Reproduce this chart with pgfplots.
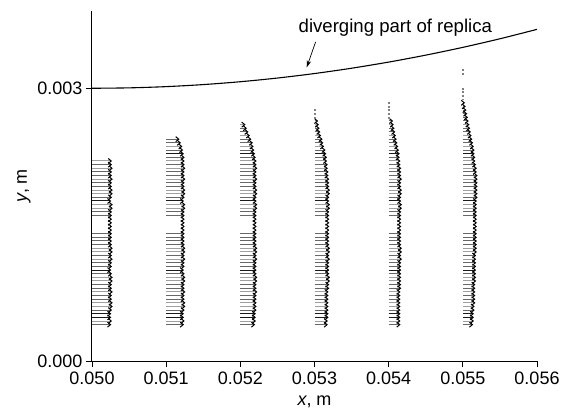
\documentclass[border=0pt]{standalone}
\usepackage{fontspec}
\setmainfont{Liberation Sans}
\usepackage{pgfplots}
\pgfplotsset{compat=1.18}
\usepackage{pgfplotstable}
\usetikzlibrary{arrows.meta}

% Velocity vectors, one table per station x: height y, grey level c of the row, axial length u.
\pgfplotstableread{
y       c    u
0.00040 0.40 0.00026
0.00044 0.62 0.00027
0.00048 0.10 0.00026
0.00052 0.10 0.00026
0.00056 0.40 0.00027
0.00060 0.62 0.00028
0.00064 0.62 0.00028
0.00068 0.40 0.00027
0.00072 0.40 0.00027
0.00076 0.62 0.00028
0.00080 0.40 0.00027
0.00084 0.40 0.00027
0.00088 0.62 0.00028
0.00092 0.62 0.00028
0.00096 0.40 0.00027
0.00100 0.10 0.00026
0.00104 0.40 0.00027
0.00108 0.40 0.00027
0.00112 0.62 0.00028
0.00116 0.40 0.00027
0.00120 0.62 0.00028
0.00124 0.62 0.00028
0.00128 0.40 0.00027
0.00132 0.40 0.00027
0.00136 0.40 0.00027
0.00140 0.40 0.00027
0.00144 1.00 0.00027
0.00148 1.00 0.00027
0.00152 1.00 0.00027
0.00156 1.00 0.00027
0.00160 0.40 0.00027
0.00164 0.40 0.00027
0.00168 0.62 0.00028
0.00172 0.62 0.00028
0.00176 0.10 0.00026
0.00180 0.40 0.00027
0.00184 0.62 0.00028
0.00188 0.62 0.00028
0.00192 0.40 0.00027
0.00196 0.40 0.00027
0.00200 0.62 0.00028
0.00204 0.40 0.00027
0.00208 0.40 0.00027
0.00212 0.62 0.00028
0.00216 0.40 0.00027
0.00220 0.62 0.00027
}\stA

\pgfplotstableread{
y       c    u
0.00040 0.40 0.00024
0.00044 0.62 0.00025
0.00048 0.10 0.00024
0.00052 0.10 0.00024
0.00056 0.40 0.00025
0.00060 0.62 0.00026
0.00064 0.62 0.00026
0.00068 0.40 0.00025
0.00072 0.40 0.00025
0.00076 0.62 0.00026
0.00080 0.40 0.00025
0.00084 0.40 0.00025
0.00088 0.62 0.00026
0.00092 0.62 0.00026
0.00096 0.40 0.00025
0.00100 0.10 0.00024
0.00104 0.40 0.00025
0.00108 0.40 0.00025
0.00112 0.62 0.00026
0.00116 0.40 0.00025
0.00120 0.62 0.00026
0.00124 0.62 0.00026
0.00128 0.40 0.00025
0.00132 0.40 0.00025
0.00136 0.40 0.00025
0.00140 0.40 0.00025
0.00144 1.00 0.00025
0.00148 1.00 0.00025
0.00152 1.00 0.00025
0.00156 1.00 0.00025
0.00160 0.40 0.00025
0.00164 0.40 0.00025
0.00168 0.62 0.00026
0.00172 0.62 0.00026
0.00176 0.10 0.00024
0.00180 0.40 0.00025
0.00184 0.62 0.00026
0.00188 0.62 0.00026
0.00192 0.40 0.00025
0.00196 0.40 0.00025
0.00200 0.62 0.00026
0.00204 0.40 0.00025
0.00208 0.40 0.00025
0.00212 0.62 0.00026
0.00216 0.40 0.00025
0.00220 0.62 0.00025
0.00224 0.40 0.00025
0.00228 0.10 0.00024
0.00232 0.40 0.00023
0.00236 0.62 0.00022
0.00240 0.40 0.00020
0.00244 0.40 0.00018
}\stB

\pgfplotstableread{
y       c    u
0.00040 0.40 0.00020
0.00044 0.62 0.00021
0.00048 0.10 0.00021
0.00052 0.10 0.00021
0.00056 0.40 0.00022
0.00060 0.62 0.00022
0.00064 0.62 0.00022
0.00068 0.40 0.00022
0.00072 0.40 0.00022
0.00076 0.62 0.00023
0.00080 0.40 0.00022
0.00084 0.40 0.00022
0.00088 0.62 0.00023
0.00092 0.62 0.00023
0.00096 0.40 0.00022
0.00100 0.10 0.00022
0.00104 0.40 0.00022
0.00108 0.40 0.00022
0.00112 0.62 0.00023
0.00116 0.40 0.00022
0.00120 0.62 0.00023
0.00124 0.62 0.00023
0.00128 0.40 0.00022
0.00132 0.40 0.00022
0.00136 0.40 0.00022
0.00140 0.40 0.00022
0.00144 1.00 0.00022
0.00148 1.00 0.00022
0.00152 1.00 0.00022
0.00156 1.00 0.00022
0.00160 0.40 0.00022
0.00164 0.40 0.00022
0.00168 0.62 0.00023
0.00172 0.62 0.00023
0.00176 0.10 0.00022
0.00180 0.40 0.00022
0.00184 0.62 0.00023
0.00188 0.62 0.00023
0.00192 0.40 0.00022
0.00196 0.40 0.00022
0.00200 0.62 0.00023
0.00204 0.40 0.00022
0.00208 0.40 0.00022
0.00212 0.62 0.00023
0.00216 0.40 0.00022
0.00220 0.62 0.00022
0.00224 0.40 0.00021
0.00228 0.10 0.00020
0.00232 0.40 0.00019
0.00236 0.62 0.00018
0.00240 0.40 0.00017
0.00244 0.40 0.00015
0.00248 0.62 0.00013
0.00252 0.40 0.00011
0.00256 0.40 0.00009
0.00260 0.62 0.00007
}\stC

\pgfplotstableread{
y       c    u
0.00040 0.40 0.00018
0.00044 0.62 0.00018
0.00048 0.10 0.00019
0.00052 0.10 0.00019
0.00056 0.40 0.00019
0.00060 0.62 0.00019
0.00064 0.62 0.00019
0.00068 0.40 0.00019
0.00072 0.40 0.00019
0.00076 0.62 0.00019
0.00080 0.40 0.00020
0.00084 0.40 0.00020
0.00088 0.62 0.00021
0.00092 0.62 0.00021
0.00096 0.40 0.00020
0.00100 0.10 0.00020
0.00104 0.40 0.00020
0.00108 0.40 0.00020
0.00112 0.62 0.00021
0.00116 0.40 0.00020
0.00120 0.62 0.00021
0.00124 0.62 0.00021
0.00128 0.40 0.00020
0.00132 0.40 0.00020
0.00136 0.40 0.00020
0.00140 0.40 0.00020
0.00144 1.00 0.00020
0.00148 1.00 0.00020
0.00152 1.00 0.00020
0.00156 1.00 0.00020
0.00160 0.40 0.00020
0.00164 0.40 0.00020
0.00168 0.62 0.00021
0.00172 0.62 0.00021
0.00176 0.10 0.00020
0.00180 0.40 0.00020
0.00184 0.62 0.00021
0.00188 0.62 0.00021
0.00192 0.40 0.00020
0.00196 0.40 0.00020
0.00200 0.62 0.00020
0.00204 0.40 0.00019
0.00208 0.40 0.00019
0.00212 0.62 0.00018
0.00216 0.40 0.00018
0.00220 0.62 0.00017
0.00224 0.40 0.00017
0.00228 0.10 0.00016
0.00232 0.40 0.00015
0.00236 0.62 0.00013
0.00240 0.40 0.00012
0.00244 0.40 0.00011
0.00248 0.62 0.00009
0.00252 0.40 0.00008
0.00256 0.40 0.00007
0.00260 0.62 0.00006
0.00264 0.40 0.00005
}\stD

\pgfplotstableread{
y       c    u
0.00040 0.40 0.00016
0.00044 0.62 0.00016
0.00048 0.10 0.00016
0.00052 0.10 0.00016
0.00056 0.40 0.00016
0.00060 0.62 0.00016
0.00064 0.62 0.00016
0.00068 0.40 0.00016
0.00072 0.40 0.00016
0.00076 0.62 0.00016
0.00080 0.40 0.00017
0.00084 0.40 0.00017
0.00088 0.62 0.00017
0.00092 0.62 0.00017
0.00096 0.40 0.00017
0.00100 0.10 0.00017
0.00104 0.40 0.00017
0.00108 0.40 0.00017
0.00112 0.62 0.00018
0.00116 0.40 0.00017
0.00120 0.62 0.00018
0.00124 0.62 0.00018
0.00128 0.40 0.00017
0.00132 0.40 0.00017
0.00136 0.40 0.00017
0.00140 0.40 0.00017
0.00144 1.00 0.00017
0.00148 1.00 0.00017
0.00152 1.00 0.00017
0.00156 1.00 0.00017
0.00160 0.40 0.00017
0.00164 0.40 0.00017
0.00168 0.62 0.00018
0.00172 0.62 0.00018
0.00176 0.10 0.00017
0.00180 0.40 0.00017
0.00184 0.62 0.00018
0.00188 0.62 0.00018
0.00192 0.40 0.00017
0.00196 0.40 0.00017
0.00200 0.62 0.00018
0.00204 0.40 0.00017
0.00208 0.40 0.00017
0.00212 0.62 0.00017
0.00216 0.40 0.00016
0.00220 0.62 0.00016
0.00224 0.40 0.00015
0.00228 0.10 0.00015
0.00232 0.40 0.00014
0.00236 0.62 0.00013
0.00240 0.40 0.00012
0.00244 0.40 0.00011
0.00248 0.62 0.00010
0.00252 0.40 0.00009
0.00256 0.40 0.00008
0.00260 0.62 0.00007
0.00264 0.40 0.00006
}\stE

\pgfplotstableread{
y       c    u
0.00040 0.40 0.00014
0.00044 0.62 0.00015
0.00048 0.10 0.00015
0.00052 0.10 0.00015
0.00056 0.40 0.00016
0.00060 0.62 0.00016
0.00064 0.62 0.00017
0.00068 0.40 0.00017
0.00072 0.40 0.00017
0.00076 0.62 0.00017
0.00080 0.40 0.00017
0.00084 0.40 0.00017
0.00088 0.62 0.00018
0.00092 0.62 0.00018
0.00096 0.40 0.00018
0.00100 0.10 0.00018
0.00104 0.40 0.00018
0.00108 0.40 0.00018
0.00112 0.62 0.00018
0.00116 0.40 0.00018
0.00120 0.62 0.00019
0.00124 0.62 0.00019
0.00128 0.40 0.00019
0.00132 0.40 0.00019
0.00136 0.40 0.00019
0.00140 0.40 0.00019
0.00144 1.00 0.00019
0.00148 1.00 0.00019
0.00152 1.00 0.00019
0.00156 1.00 0.00019
0.00160 0.40 0.00019
0.00164 0.40 0.00019
0.00168 0.62 0.00019
0.00172 0.62 0.00019
0.00176 0.10 0.00019
0.00180 0.40 0.00020
0.00184 0.62 0.00020
0.00188 0.62 0.00020
0.00192 0.40 0.00020
0.00196 0.40 0.00020
0.00200 0.62 0.00020
0.00204 0.40 0.00020
0.00208 0.40 0.00019
0.00212 0.62 0.00019
0.00216 0.40 0.00018
0.00220 0.62 0.00017
0.00224 0.40 0.00017
0.00228 0.10 0.00016
0.00232 0.40 0.00016
0.00236 0.62 0.00015
0.00240 0.40 0.00014
0.00244 0.40 0.00013
0.00248 0.62 0.00012
0.00252 0.40 0.00011
0.00256 0.40 0.00010
0.00260 0.62 0.00009
0.00264 0.40 0.00008
0.00268 0.40 0.00007
0.00272 0.40 0.00006
0.00276 0.40 0.00005
0.00280 0.40 0.00004
0.00284 0.40 0.00003
}\stF

% Near-zero points above the profiles at the last three stations
\pgfplotstableread{
x      y
0.053  0.00268
0.053  0.00272
0.053  0.00276
0.054  0.00268
0.054  0.00272
0.054  0.00276
0.054  0.00280
0.054  0.00284
0.055  0.00288
0.055  0.00292
0.055  0.00296
0.055  0.00300
0.055  0.00316
0.055  0.00320
}\still

% Upper wall: diverging part of the replica
\pgfplotstableread{
x       y
0.0500  0.0030000
0.0505  0.0030045
0.0510  0.0030180
0.0515  0.0030405
0.0520  0.0030720
0.0525  0.0031125
0.0530  0.0031620
0.0535  0.0032205
0.0540  0.0032880
0.0545  0.0033645
0.0550  0.0034500
0.0555  0.0035445
0.0560  0.0036480
}\wall

\newcommand\lab{\fontsize{18bp}{21bp}\selectfont}

\pgfplotsset{
  station/.style={
    quiver={u=\thisrow{u}, v=0,
      every arrow/.append style={draw=mapped color, line width=1bp,
        -{Straight Barb[length=3bp,width=5bp,color=black,line width=1bp]}}},
    point meta=\thisrow{c}},
}

\begin{document}
\begin{tikzpicture}
\path[use as bounding box] (-92bp,-49bp) rectangle (469bp,361bp);
\begin{axis}[
  at={(0,0)}, anchor=south west,
  scale only axis, width=445bp, height=350bp,
  xmin=0.050, xmax=0.056, ymin=0, ymax=0.00385,
  axis x line*=bottom, axis y line*=left,
  axis line style={line width=1bp},
  xtick={0.050,0.051,0.052,0.053,0.054,0.055,0.056},
  ytick={0,0.003},
  scaled x ticks=false, scaled y ticks=false,
  tick align=outside, major tick length=6bp,
  tick style={line width=0.9bp, black},
  xticklabel style={yshift=-1.5bp, /pgf/number format/.cd, fixed, fixed zerofill, precision=3, assume math mode=true},
  yticklabel style={/pgf/number format/.cd, fixed, fixed zerofill, precision=3, assume math mode=true},
  ticklabel style={font=\lab},
  label style={font=\lab},
  xlabel={\textit{x}, m},
  xlabel style={yshift=-4bp},
  ylabel={\textit{y}, m},
  colormap={greys}{gray(0cm)=(0); gray(1cm)=(1)},
  point meta min=0, point meta max=1,
  clip=false,
]
\addplot[black, line width=1.1bp, smooth] table[x=x, y=y] {\wall};

\addplot[station] table[x expr=0.050, y=y] {\stA};
\addplot[station] table[x expr=0.051, y=y] {\stB};
\addplot[station] table[x expr=0.052, y=y] {\stC};
\addplot[station] table[x expr=0.053, y=y] {\stD};
\addplot[station] table[x expr=0.054, y=y] {\stE};
\addplot[station] table[x expr=0.055, y=y] {\stF};

\addplot[only marks, mark=square*, mark size=0.45bp, draw=gray, fill=gray]
  table[x=x, y=y] {\still};

\node[font=\fontsize{18.6bp}{21bp}\selectfont, anchor=base] at (axis cs:0.05409,0.00361) {diverging part of replica};
\draw[line width=0.7bp, -{Stealth[length=7bp,width=4.5bp]}]
  (axis cs:0.053015,0.00351) -- (axis cs:0.052895,0.00323);
\end{axis}
\end{tikzpicture}
\end{document}
